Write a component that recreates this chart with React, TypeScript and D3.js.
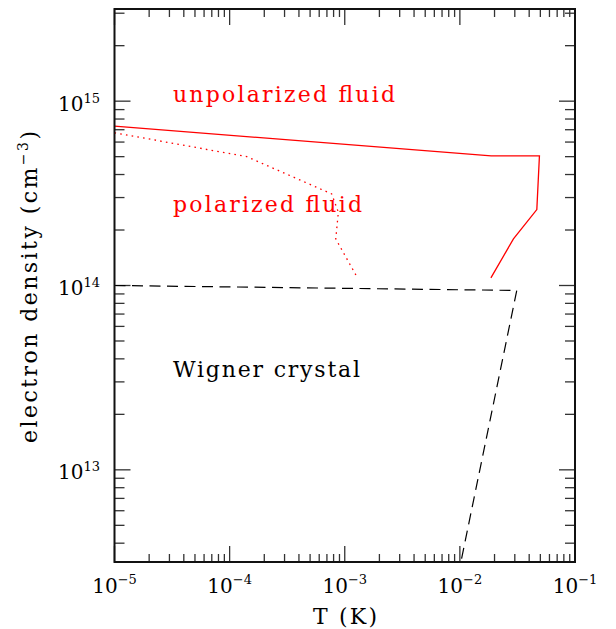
import React from 'react';
import * as d3 from 'd3';

const W = 616;
const H = 629;
const PLOT = { left: 114.5, right: 575, top: 9, bottom: 562 };

const xDomain = [1e-5, 1e-1];
const yDomain = [Math.pow(10, 12.5), Math.pow(10, 15.5)];
const xTickExps = [-5, -4, -3, -2, -1];
const yTickExps = [13, 14, 15];

// unpolarized / polarized boundary (solid red)
const unpolT = [1e-5, 0.0187, 0.0491, 0.0466, 0.0292, 0.0186];
const unpolN = [7.32e14, 5.05e14, 5.05e14, 2.58e14, 1.79e14, 1.1e14];
// polarized fluid boundary (dotted red)
const polT = [1e-5, 1.41e-4, 7.7e-4, 8.8e-4, 8.35e-4, 1.29e-3];
const polN = [6.74e14, 5.0e14, 3.14e14, 2.5e14, 1.79e14, 1.1e14];
// Wigner crystal boundary (dashed black)
const wigT = [1e-5, 0.0312, 0.0102];
const wigN = [1e14, 9.4e13, Math.pow(10, 12.5)];

const regionLabels = ['unpolarized fluid', 'polarized fluid', 'Wigner crystal'];

const FONT = '"DejaVu Serif", "Liberation Serif", serif';

export default function App() {
  const x = d3.scaleLog().domain(xDomain).range([PLOT.left, PLOT.right]);
  const y = d3.scaleLog().domain(yDomain).range([PLOT.bottom, PLOT.top]);
  const line = d3
    .line<[number, number]>()
    .x((d) => x(d[0]))
    .y((d) => y(d[1]));
  const zip = (a: number[], b: number[]) => a.map((v, i) => [v, b[i]] as [number, number]);

  const xMinor: number[] = [];
  for (let e = -5; e < -1; e++) for (let k = 2; k <= 9; k++) xMinor.push(k * Math.pow(10, e));
  const yMinor: number[] = [];
  for (let e = 12; e <= 15; e++)
    for (let k = 2; k <= 9; k++) {
      const v = k * Math.pow(10, e);
      if (v > yDomain[0] && v < yDomain[1]) yMinor.push(v);
    }

  const tickStroke = '#333';
  const MAJ = 16;
  const XMIN = 8;
  const YMIN = 10;

  return (
    <svg width={W} height={H} style={{ position: 'absolute', left: 0, top: 0 }} fontFamily={FONT}>
      <rect x={0} y={0} width={W} height={H} fill="#fff" />
      {/* ticks */}
      <g stroke={tickStroke} strokeWidth={1.3}>
        {xTickExps.map((e) => {
          const px = x(Math.pow(10, e));
          return (
            <g key={'xM' + e}>
              <line x1={px} x2={px} y1={PLOT.bottom} y2={PLOT.bottom - MAJ} />
              <line x1={px} x2={px} y1={PLOT.top} y2={PLOT.top + MAJ} />
            </g>
          );
        })}
        {xMinor.map((v, i) => {
          const px = x(v);
          return (
            <g key={'xm' + i}>
              <line x1={px} x2={px} y1={PLOT.bottom} y2={PLOT.bottom - XMIN} />
              <line x1={px} x2={px} y1={PLOT.top} y2={PLOT.top + XMIN} />
            </g>
          );
        })}
        {yTickExps.map((e) => {
          const py = y(Math.pow(10, e));
          return (
            <g key={'yM' + e}>
              <line x1={PLOT.left} x2={PLOT.left + MAJ} y1={py} y2={py} />
              <line x1={PLOT.right} x2={PLOT.right - MAJ} y1={py} y2={py} />
            </g>
          );
        })}
        {yMinor.map((v, i) => {
          const py = y(v);
          return (
            <g key={'ym' + i}>
              <line x1={PLOT.left} x2={PLOT.left + YMIN} y1={py} y2={py} />
              <line x1={PLOT.right} x2={PLOT.right - YMIN} y1={py} y2={py} />
            </g>
          );
        })}
      </g>
      {/* curves */}
      <path d={line(zip(unpolT, unpolN)) || ''} fill="none" stroke="#ff0000" strokeWidth={1.3} />
      <path
        d={line(zip(polT, polN)) || ''}
        fill="none"
        stroke="#ff0000"
        strokeWidth={1.3}
        strokeDasharray="1.6,4.2"
      />
      <path
        d={line(zip(wigT, wigN)) || ''}
        fill="none"
        stroke="#000"
        strokeWidth={1.2}
        strokeDasharray="11,6.5"
      />
      {/* frame */}
      <rect
        x={PLOT.left}
        y={PLOT.top}
        width={PLOT.right - PLOT.left}
        height={PLOT.bottom - PLOT.top}
        fill="none"
        stroke="#111"
        strokeWidth={2}
      />
      {/* tick labels */}
      <g fill="#000">
        {xTickExps.map((e) => (
          <text key={'xl' + e} x={x(Math.pow(10, e))} y={593} textAnchor="middle" fontSize={20}>
            10<tspan fontSize={13} dy={-9}>{'\u2212' + Math.abs(e)}</tspan>
          </text>
        ))}
        {yTickExps.map((e) => (
          <text key={'yl' + e} x={100} y={y(Math.pow(10, e)) + 9.5} textAnchor="end" fontSize={20}>
            10<tspan fontSize={13} dy={-8}>{String(e)}</tspan>
          </text>
        ))}
      </g>
      {/* axis titles */}
      <text x={345} y={624} textAnchor="middle" fontSize={22} textLength={64} lengthAdjust="spacing">
        T (K)
      </text>
      <text
        transform="translate(37,287) rotate(-90)"
        textAnchor="middle"
        fontSize={22}
        textLength={312}
        lengthAdjust="spacing"
      >
        electron density (cm<tspan fontSize={14} dy={-9}>{'\u22123'}</tspan>
        <tspan dy={9}>)</tspan>
      </text>
      {/* region labels */}
      <text x={173} y={101.7} fontSize={22} fill="#ff0000" textLength={222} lengthAdjust="spacing">
        {regionLabels[0]}
      </text>
      <text x={173} y={211.7} fontSize={22} fill="#ff0000" textLength={189} lengthAdjust="spacing">
        {regionLabels[1]}
      </text>
      <text x={173} y={376.7} fontSize={22} fill="#000" textLength={187} lengthAdjust="spacing">
        {regionLabels[2]}
      </text>
    </svg>
  );
}
